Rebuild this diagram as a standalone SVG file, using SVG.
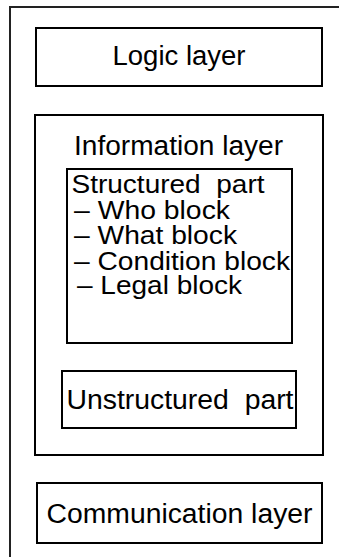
<svg xmlns="http://www.w3.org/2000/svg" width="339" height="557" viewBox="0 0 339 557">
<style>
.box{fill:#fff;stroke:#000;stroke-width:2}
.frame{fill:none;stroke:#222;stroke-width:2}
text{font-family:"Liberation Sans",Arial,sans-serif;font-size:27px;fill:#000}
.list{font-size:26px}
</style>
<rect width="339" height="557" fill="#fff"/>
<g id="frame"><path class="frame" d="M10 557 V7 H339"/></g>
<g id="logic-layer">
<rect class="box" x="36" y="28" width="286" height="58"/>
<text x="112.5" y="65" textLength="133" lengthAdjust="spacingAndGlyphs">Logic layer</text>
</g>
<g id="information-layer">
<rect class="box" x="35" y="115" width="288" height="340"/>
<text x="74" y="155" textLength="209" lengthAdjust="spacingAndGlyphs">Information layer</text>
</g>
<g id="structured-part">
<rect class="box" x="67" y="169" width="225" height="174"/>
<text class="list" x="71.5" y="193" textLength="193" lengthAdjust="spacingAndGlyphs" xml:space="preserve">Structured  part</text>
<text class="list" x="74" y="219" textLength="156" lengthAdjust="spacingAndGlyphs">– Who block</text>
<text class="list" x="74" y="244" textLength="163" lengthAdjust="spacingAndGlyphs">– What block</text>
<text class="list" x="74" y="270" textLength="216" lengthAdjust="spacingAndGlyphs">– Condition block</text>
<text class="list" x="77" y="294" textLength="165" lengthAdjust="spacingAndGlyphs">– Legal block</text>
</g>
<g id="unstructured-part">
<rect class="box" x="62" y="371" width="234" height="57"/>
<text x="66.5" y="409" textLength="227" lengthAdjust="spacingAndGlyphs" xml:space="preserve">Unstructured  part</text>
</g>
<g id="communication-layer">
<rect class="box" x="37" y="483" width="285" height="60"/>
<text x="46.5" y="523" textLength="266" lengthAdjust="spacingAndGlyphs">Communication layer</text>
</g>
<g id="connectors"></g>
</svg>
